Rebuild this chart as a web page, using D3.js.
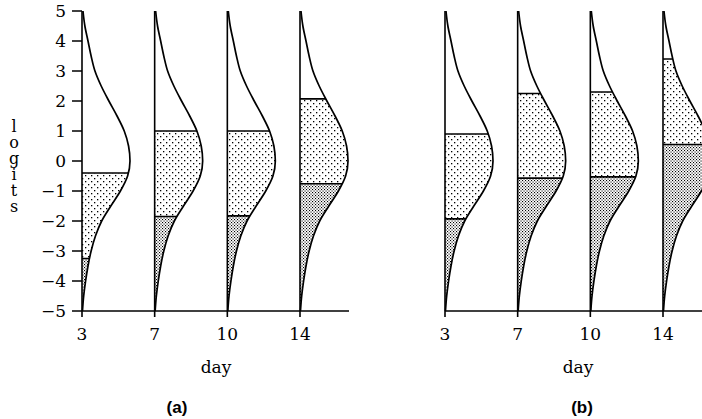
<!DOCTYPE html>
<html>
<head>
<meta charset="utf-8">
<script src="https://cdn.jsdelivr.net/npm/d3@7/dist/d3.min.js"></script>
<style>
  body { margin: 0; background: #fff; }
  svg { display: block; }
  .serif { font-family: "DejaVu Serif", "Liberation Serif", serif; }
  .vert { writing-mode: vertical-rl; text-orientation: upright; letter-spacing: -3px; }
</style>
</head>
<body>
<div id="chart"></div>
<script>
// days on the x axis
var days = [3, 7, 10, 14];
var logitTicks = [-5, -4, -3, -2, -1, 0, 1, 2, 3, 4, 5];

// shape of the latent distribution (relative height)
var shapeLogit   = [5, 4.5, 4, 3.5, 3, 2.5, 2, 1.5, 1, 0.5, 0, -0.5, -1, -1.5, -2, -2.5, -3, -3.5, -4, -4.5, -5];
var shapeDensity = [0.02, 0.06, 0.125, 0.19, 0.27, 0.4, 0.56, 0.73, 0.88, 0.97, 1, 0.95, 0.8, 0.6, 0.41, 0.28, 0.19, 0.125, 0.075, 0.035, 0.01];

// thresholds per day, panel (a)
var upperA = [-0.4, 1.0, 1.0, 2.07];
var lowerA = [-3.25, -1.85, -1.83, -0.76];
// thresholds per day, panel (b)
var upperB = [0.9, 2.25, 2.3, 3.4];
var lowerB = [-1.93, -0.57, -0.53, 0.55];

var width = 702, height = 419;

var svg = d3.select("#chart").append("svg")
  .attr("width", width)
  .attr("height", height);

// fill patterns
var defs = svg.append("defs");
var sparse = defs.append("pattern")
  .attr("id", "sparse")
  .attr("patternUnits", "userSpaceOnUse")
  .attr("width", 6).attr("height", 6);
sparse.append("rect").attr("x", 1).attr("y", 1).attr("width", 1.3).attr("height", 1.3).attr("fill", "#000");
sparse.append("rect").attr("x", 4).attr("y", 4).attr("width", 1.3).attr("height", 1.3).attr("fill", "#000");

var dense = defs.append("pattern")
  .attr("id", "dense")
  .attr("patternUnits", "userSpaceOnUse")
  .attr("width", 3).attr("height", 3);
dense.append("rect").attr("x", 0).attr("y", 0).attr("width", 1.1).attr("height", 1.1).attr("fill", "#000");
dense.append("rect").attr("x", 1.5).attr("y", 1.5).attr("width", 1.1).attr("height", 1.1).attr("fill", "#000");

var y = d3.scaleLinear().domain([-5, 5]).range([311, 11]);
var w = d3.scaleLinear().domain([0, 1]).range([0, 48]);

var shape = shapeLogit.map(function(l, i) { return {logit: l, d: shapeDensity[i]}; });

var panel = function(name, x0, x1, axisEnd, upper, lower, withY, dayX, labX) {
  var x = d3.scalePoint().domain(days).range([x0, x1]);
  var g = svg.append("g");

  days.forEach(function(day, i) {
    var cx = x(day);
    var area = d3.area()
      .curve(d3.curveMonotoneY)
      .y(function(p) { return y(p.logit); })
      .x0(cx)
      .x1(function(p) { return cx + w(p.d); });

    var id = "clip-" + name + i;
    defs.append("clipPath").attr("id", id)
      .append("path").attr("d", area(shape));

    var inner = g.append("g").attr("clip-path", "url(#" + id + ")");
    // middle band
    inner.append("rect")
      .attr("x", cx).attr("width", 60)
      .attr("y", y(upper[i])).attr("height", y(lower[i]) - y(upper[i]))
      .attr("fill", "url(#sparse)");
    // lower band
    inner.append("rect")
      .attr("x", cx).attr("width", 60)
      .attr("y", y(lower[i])).attr("height", y(-5) - y(lower[i]))
      .attr("fill", "url(#dense)");
    [upper[i], lower[i]].forEach(function(t) {
      inner.append("line")
        .attr("x1", cx).attr("x2", cx + 60)
        .attr("y1", y(t)).attr("y2", y(t))
        .attr("stroke", "#000").attr("stroke-width", 1.6);
    });

    // outline
    var line = d3.line()
      .curve(d3.curveMonotoneY)
      .y(function(p) { return y(p.logit); })
      .x(function(p) { return cx + w(p.d); });
    g.append("path").attr("d", line(shape))
      .attr("fill", "none").attr("stroke", "#000").attr("stroke-width", 1.7);
    g.append("line")
      .attr("x1", cx).attr("x2", cx)
      .attr("y1", y(5)).attr("y2", y(-5) + 6)
      .attr("stroke", "#000").attr("stroke-width", 1.6);

    g.append("text").attr("class", "serif")
      .attr("x", cx).attr("y", 340)
      .attr("text-anchor", "middle")
      .attr("font-size", 17)
      .text(day);
  });

  // bottom axis line
  g.append("line")
    .attr("x1", x0).attr("x2", axisEnd)
    .attr("y1", y(-5)).attr("y2", y(-5))
    .attr("stroke", "#000").attr("stroke-width", 1.5);

  if (withY) {
    logitTicks.forEach(function(t) {
      g.append("line")
        .attr("x1", x0 - 10).attr("x2", x0)
        .attr("y1", y(t)).attr("y2", y(t))
        .attr("stroke", "#000").attr("stroke-width", 1.5);
      g.append("text").attr("class", "serif")
        .attr("x", x0 - 16).attr("y", y(t))
        .attr("dy", "0.36em")
        .attr("text-anchor", "end")
        .attr("font-size", 17)
        .text(t < 0 ? "\u2212" + (-t) : t);
    });
    // stacked axis title
    svg.append("text").attr("class", "serif vert")
      .attr("x", 14).attr("y", 117)
      .attr("font-size", 16)
      .text("logits");
  }

  svg.append("text").attr("class", "serif")
    .attr("x", dayX).attr("y", 373)
    .attr("text-anchor", "middle")
    .attr("font-size", 17)
    .text("day");
  svg.append("text")
    .attr("x", labX).attr("y", 413)
    .attr("text-anchor", "middle")
    .attr("font-family", "Liberation Sans, Arial, sans-serif")
    .attr("font-weight", "bold")
    .attr("font-size", 17)
    .text("(" + name + ")");
};

panel("a", 82, 300, 349, upperA, lowerA, true, 216, 177);
panel("b", 445, 663, 702, upperB, lowerB, false, 578, 582);
</script>
</body>
</html>
